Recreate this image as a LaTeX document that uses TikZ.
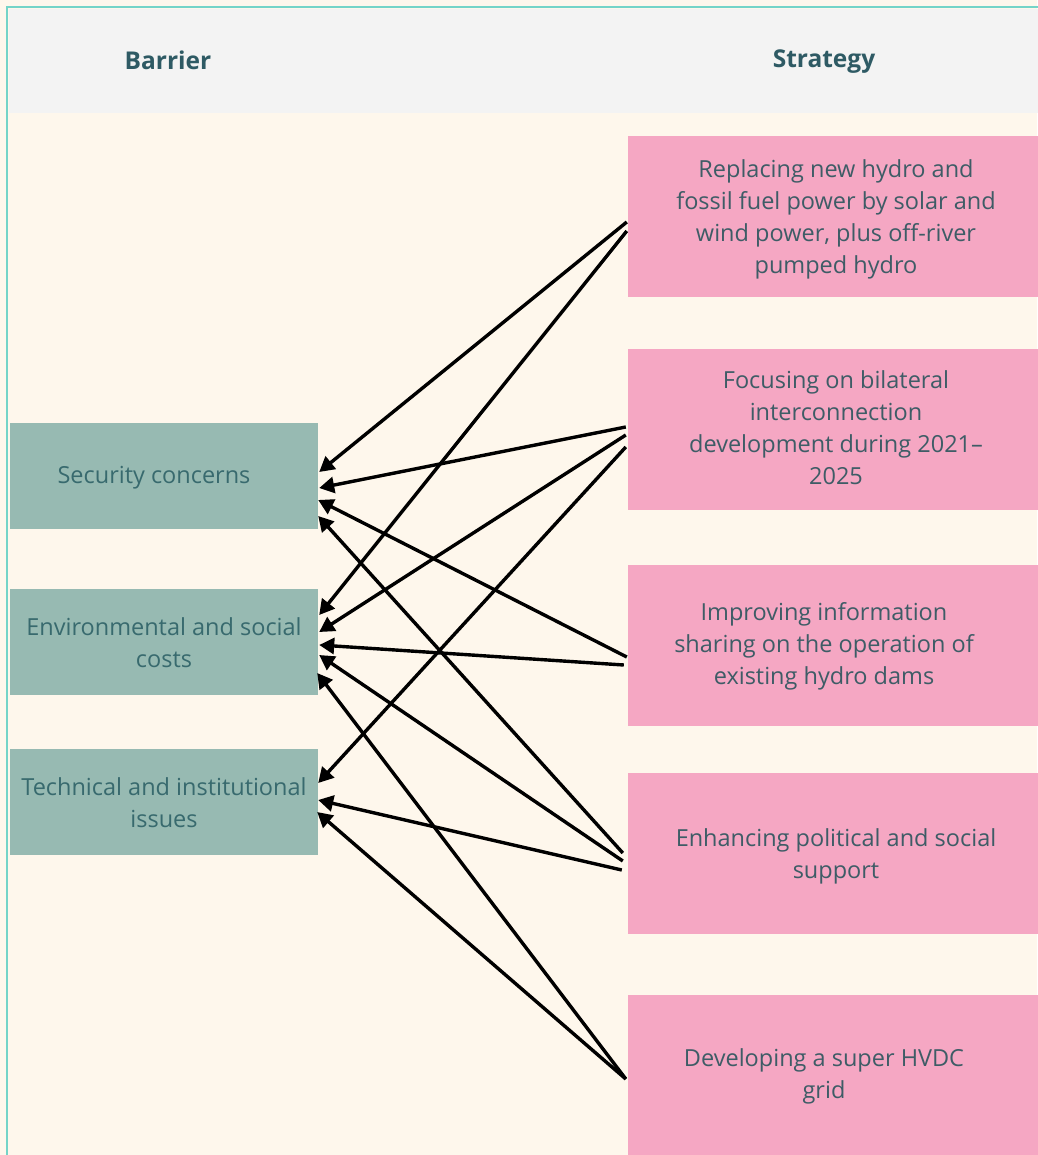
\documentclass[tikz,border=0pt]{standalone}
\usepackage{fontspec}
\setmainfont{Open Sans}
\usetikzlibrary{arrows.meta,calc}
\definecolor{cream}{HTML}{FEF7EC}
\definecolor{hdrgray}{HTML}{F3F3F3}
\definecolor{frame}{HTML}{74D4C8}
\definecolor{pinkbox}{HTML}{F5A7C3}
\definecolor{sage}{HTML}{97BAB2}
\definecolor{hdrtext}{HTML}{2E5A64}
\definecolor{pinktext}{HTML}{3E5C66}
\definecolor{sagetext}{HTML}{386A6E}
\begin{document}
\begin{tikzpicture}[x=1pt,y=-1pt,
  gbox/.style={fill=sage, draw=none, inner sep=0pt, minimum width=308pt, minimum height=106pt},
  pbox/.style={fill=pinkbox, draw=none, inner sep=0pt, minimum width=418pt, minimum height=161pt},
  hdr/.style={font=\fontsize{24.5}{30}\selectfont\bfseries, text=hdrtext, inner sep=0pt},
  ptxt/.style={font=\fontsize{23.5}{32}\selectfont, text=pinktext, align=center, inner sep=0pt},
  gtxt/.style={font=\fontsize{23.5}{32}\selectfont, text=sagetext, align=center, inner sep=0pt},
  arr/.style={draw=black, line width=3.4pt, -{Triangle[length=15pt,width=16pt]}}]
\useasboundingbox (0,0) rectangle (1037,1155);
\fill[cream] (0,0) rectangle (1037,1155);
\fill[hdrgray] (9,9) rectangle (1040,113);
\draw[frame, line width=2.2pt] (7,1160) -- (7,7) -- (1045,7);
\node[hdr] (hb) at (168,60) {Barrier};
\node[hdr] (hs) at (824,62) {Strategy};
% barrier boxes
\node[gbox] (b1) at (164,476) {};
\node[gbox] (b2) at (164,642) {};
\node[gbox] (b3) at (164,802) {};
\node[gtxt] (tb1) at (154,478) {Security concerns};
\node[gtxt] (tb2) at (164,643) {Environmental and social\\costs};
\node[gtxt] (tb3) at (164,803) {Technical and institutional\\issues};
% strategy boxes
\node[pbox] (s1) at (837,216.5) {};
\node[pbox] (s2) at (837,429.5) {};
\node[pbox] (s3) at (837,645.5) {};
\node[pbox] (s4) at (837,853.5) {};
\node[pbox] (s5) at (837,1075.5) {};
\node[ptxt] (ts1) at (836,219.5) {Replacing new hydro and\\fossil fuel power by solar and\\wind power, plus off-river\\pumped hydro};
\node[ptxt] (ts2) at (836,427.5) {Focusing on bilateral\\interconnection\\development during 2021–\\2025};
\node[ptxt] (ts3) at (824,646.5) {Improving information\\sharing on the operation of\\existing hydro dams};
\node[ptxt] (ts4) at (836,856.5) {Enhancing political and social\\support};
\node[ptxt] (ts5) at (824,1076.5) {Developing a super HVDC\\grid};
% connectors
\draw[arr] ($(s1.west)+(-1,5.5)$) -- ($(b1.east)+(1,-4)$);
\draw[arr] ($(s1.west)+(-1,14.5)$) -- ($(b2.east)+(1,-27)$);
\draw[arr] ($(s2.west)+(-2,-2.5)$) -- ($(b1.east)+(1,12)$);
\draw[arr] ($(s2.west)+(-2,5.5)$) -- ($(b2.east)+(1,-10)$);
\draw[arr] ($(s2.west)+(-2,17.5)$) -- ($(b3.east)+(0,-19)$);
\draw[arr] ($(s3.west)+(-1,11.5)$) -- ($(b1.east)+(0,24)$);
\draw[arr] ($(s3.west)+(-4,19.5)$) -- ($(b2.east)+(1,3)$);
\draw[arr] ($(s4.west)+(-5,-0.5)$) -- ($(b1.east)+(0,40)$);
\draw[arr] ($(s4.west)+(-5,7.5)$) -- ($(b2.east)+(1,13)$);
\draw[arr] ($(s4.west)+(-6,16.5)$) -- ($(b3.east)+(0,-2)$);
\draw[arr] ($(s5.west)+(-2,3.5)$) -- ($(b2.east)+(-1,31)$);
\draw[arr] ($(s5.west)+(-2,3.5)$) -- ($(b3.east)+(-1,10)$);
\end{tikzpicture}
\end{document}
